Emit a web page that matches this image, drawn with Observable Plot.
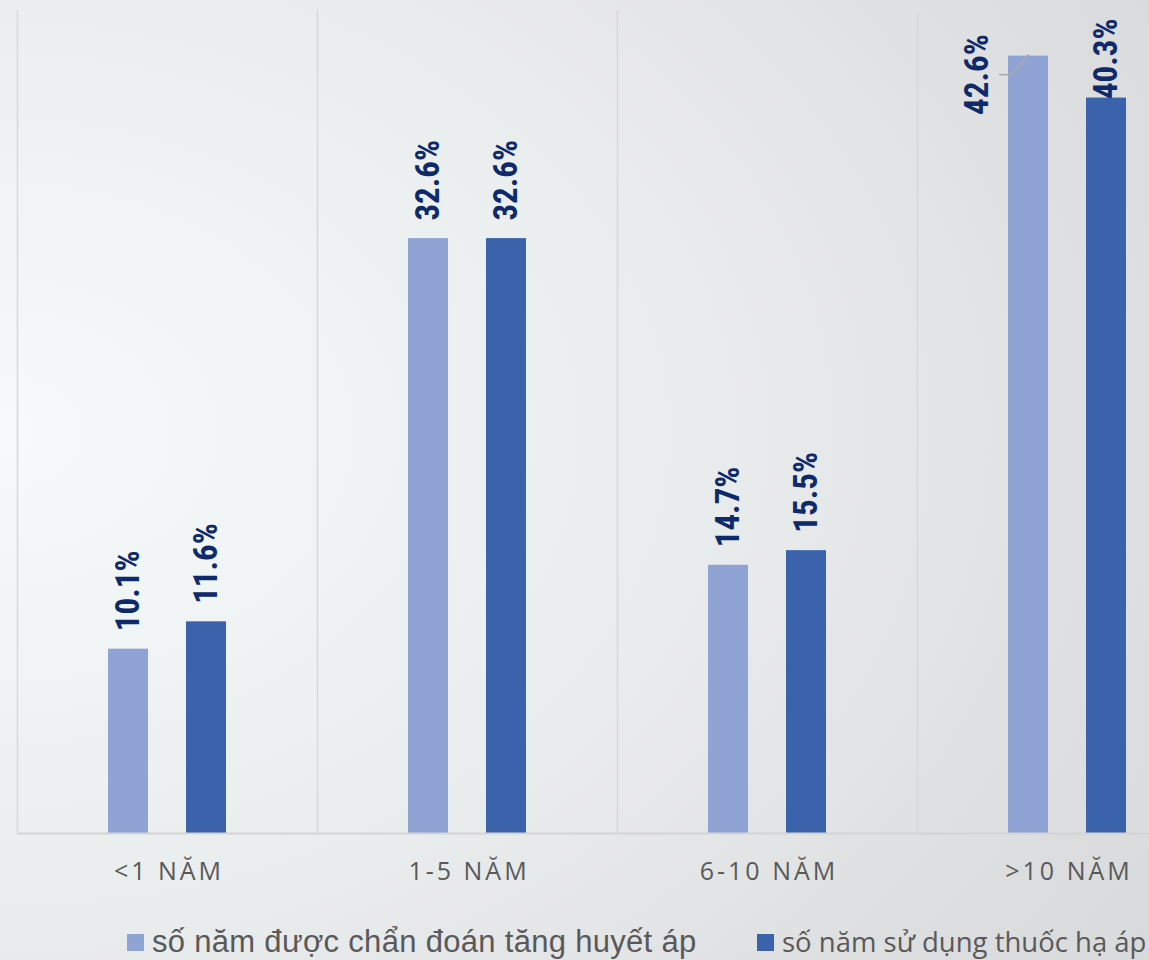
<!DOCTYPE html>
<html>
<head>
<meta charset="utf-8">
<script src="https://cdn.jsdelivr.net/npm/d3@7"></script>
<script src="https://cdn.jsdelivr.net/npm/@observablehq/plot@0.6"></script>
<style>
  html, body { margin: 0; padding: 0; width: 1149px; height: 960px; overflow: hidden; }
  body {
    background: radial-gradient(ellipse 130% 110% at 0% 45%, #f6fafb 0%, #eaedee 45%, #dcdddf 80%, #d7d8da 100%);
    font-family: "Open Sans", sans-serif;
  }
  #chart svg { display: block; background: transparent; }
  g[aria-label="x-axis tick label"] text { letter-spacing: 3px; }
  #legend { position: relative; height: 60px; }
  .item { position: absolute; top: 24px; height: 36px; line-height: 36px; display: flex; align-items: center; color: #595959; white-space: nowrap; }
  .sw { width: 17px; height: 17px; margin-right: 8px; }
</style>
</head>
<body>
<div id="chart"></div>
<div id="legend"></div>
<script>
const categories = ["<1 NĂM", "1-5 NĂM", "6-10 NĂM", ">10 NĂM"];
const diagnosed = [10.1, 32.6, 14.7, 42.6];
const medication = [11.6, 32.6, 15.5, 40.3];
const seriesNames = ["số năm được chẩn đoán tăng huyết áp", "số năm sử dụng thuốc hạ áp"];
const colors = ["#8FA3D4", "#3A63AC"];

const lightData = categories.map((c, i) => ({cat: c, v: diagnosed[i]}));
const darkData = categories.map((c, i) => ({cat: c, v: medication[i]}));

const yMax = 45.1;
const fmt = d => d.v.toFixed(1) + "%";
const labelFont = {fontSize: 33, fontWeight: "bold", fontFamily: "'Liberation Sans Narrow', 'Roboto Condensed', Roboto, sans-serif", fill: "#0E2A6A"};

// labels that would overflow the top get placed beside the bar
const lightInside = lightData.filter(d => d.v < 41);
const lightOutside = lightData.filter(d => d.v >= 41);
const darkNormal = darkData.filter(d => d.v < 38);
const darkTop = darkData.filter(d => d.v >= 38);

const plot = Plot.plot({
  width: 1149,
  height: 900,
  marginTop: 10,
  marginBottom: 67,
  marginLeft: 17,
  marginRight: 0,
  style: {background: "transparent", overflow: "hidden"},
  x: {domain: categories, range: [17, 1217], padding: 0, axis: null, label: null},
  y: {domain: [0, yMax], axis: null},
  marks: [
    Plot.ruleX(categories, {x: d => d, dx: -150, stroke: "#d6d8da", strokeWidth: 1.5}),
    Plot.barY(lightData, {x: "cat", y: "v", fill: colors[0], insetLeft: 91, insetRight: 169}),
    Plot.barY(darkData, {x: "cat", y: "v", fill: colors[1], insetLeft: 169, insetRight: 91}),
    Plot.ruleY([0], {stroke: "#d3d4d6", strokeWidth: 2}),
    Plot.text(lightInside, {x: "cat", y: "v", text: fmt, dx: -39, dy: -18, rotate: -90, textAnchor: "start", ...labelFont}),
    Plot.text(darkNormal, {x: "cat", y: "v", text: fmt, dx: 39, dy: -18, rotate: -90, textAnchor: "start", ...labelFont}),
    Plot.text(darkTop, {x: "cat", y: "v", text: fmt, dx: 39, dy: 1, rotate: -90, textAnchor: "start", ...labelFont}),
    Plot.text(lightOutside, {x: "cat", y: "v", text: fmt, dx: -90, dy: 18.5, rotate: -90, textAnchor: "middle", ...labelFont}),
    Plot.tickY(lightOutside, {x: "cat", y: "v", dy: 18.5, insetLeft: 82, insetRight: 206, stroke: "#a9a9a9", strokeWidth: 1.5}),
    Plot.vector(lightOutside, {x: "cat", y: "v", dx: -56, dy: 18.5, length: 26, rotate: 40, anchor: "start", stroke: "#a9a9a9", strokeWidth: 1.5,
      shape: {draw(ctx, l) { ctx.moveTo(0, 0); ctx.lineTo(0, -l); }}}),
    Plot.axisX({tickSize: 0, tickPadding: 29, fontSize: 25, dx: 1.5, fill: "#595959", fontFamily: "'Open Sans', sans-serif", label: null})
  ]
});
document.getElementById("chart").appendChild(plot);

const legend = document.getElementById("legend");
const legendStyle = [
  {left: 127, font: "'Liberation Sans', Arial, sans-serif", size: 31, spacing: 0.3},
  {left: 757, font: "'Open Sans', sans-serif", size: 27.5, spacing: 0}
];
seriesNames.forEach((name, i) => {
  const item = document.createElement("div");
  item.className = "item";
  item.style.left = legendStyle[i].left + "px";
  item.style.fontFamily = legendStyle[i].font;
  item.style.fontSize = legendStyle[i].size + "px";
  item.style.letterSpacing = legendStyle[i].spacing + "px";
  const sw = document.createElement("div");
  sw.className = "sw";
  sw.style.background = colors[i];
  const t = document.createElement("span");
  t.textContent = name;
  item.appendChild(sw);
  item.appendChild(t);
  legend.appendChild(item);
});
</script>
</body>
</html>
